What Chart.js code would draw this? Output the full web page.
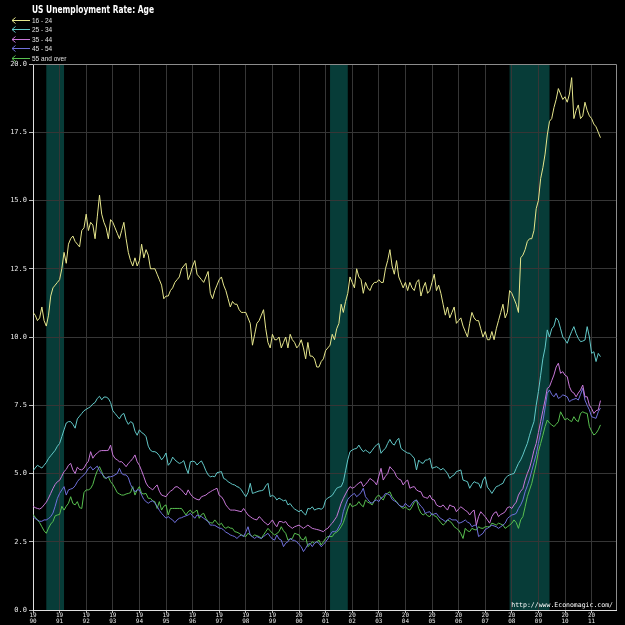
<!DOCTYPE html>
<html>
<head>
<meta charset="utf-8">
<script src="https://cdn.jsdelivr.net/npm/chart.js@4.4.1/dist/chart.umd.min.js"></script>
<style>
html,body{margin:0;padding:0;background:#000;}
#wrap{width:625px;height:625px;position:relative;}
canvas{display:block;}
</style>
</head>
<body>
<div id="wrap"><canvas id="c" width="625" height="625"></canvas></div>
<script>
// ---------- DATA ----------
const TITLE = 'US Unemployment Rate: Age';
const SERIES_LABELS = ['16 - 24', '25 - 34', '35 - 44', '45 - 54', '55 and over'];
const FIRST_YEAR = 1990;
const X_TICK_YEARS = [1990,1991,1992,1993,1994,1995,1996,1997,1998,1999,2000,2001,2002,2003,2004,2005,2006,2007,2008,2009,2010,2011];
const Y_TICKS = [0, 2.5, 5, 7.5, 10, 12.5, 15, 17.5, 20];
const RECESSIONS = [['1990-07', '1991-03'], ['2001-03', '2001-11'], ['2007-12', '2009-06']];
const WATERMARK = 'http://www.Economagic.com/';

const age16_24 = [
10.9,10.8,10.6,10.7,11.1,10.6,10.4,10.8,11.5,11.8,11.9,12.0,
12.1,12.5,13.1,12.7,13.4,13.6,13.7,13.5,13.4,13.3,13.9,14.0,
14.5,13.9,14.2,14.1,13.6,14.4,15.2,14.5,14.2,14.0,13.6,14.3,
14.2,14.0,13.8,13.6,13.9,14.2,13.6,13.1,12.8,12.6,12.9,12.6,
12.8,13.4,12.9,13.2,13.0,12.5,12.5,12.5,12.3,12.1,11.9,11.4,
11.5,11.5,11.7,11.8,12.0,12.1,12.2,12.5,12.6,12.7,12.1,12.3,
12.6,12.8,12.3,12.2,12.1,12.0,12.2,12.4,11.6,11.4,11.7,11.9,
12.1,12.2,11.9,11.7,11.4,11.1,11.3,11.2,11.2,11.0,10.9,10.9,
10.9,10.7,10.5,9.7,10.1,10.5,10.6,10.8,11.0,10.3,9.8,9.6,
10.1,9.9,9.9,10.0,9.6,9.8,10.0,9.6,10.1,9.9,9.8,9.6,
9.7,9.9,9.6,9.2,9.8,9.3,9.3,9.2,8.9,8.9,9.1,9.2,
9.5,9.6,9.7,10.1,9.9,10.3,10.5,11.2,10.9,11.3,11.6,12.2,
12.0,11.8,12.5,12.2,12.1,11.6,12.0,11.8,11.7,11.9,12.0,12.0,
12.1,12.0,12.0,12.5,12.8,13.2,12.6,12.3,12.8,12.2,12.0,11.8,
12.0,11.7,12.0,11.8,11.7,12.0,12.1,11.5,11.8,12.0,11.6,11.7,
12.0,12.3,11.7,11.9,11.6,11.2,10.8,11.1,10.7,10.9,11.1,10.5,
10.6,10.7,10.4,10.2,10.0,10.5,10.9,10.7,10.6,10.6,10.3,10.0,
10.2,9.9,9.9,10.2,9.9,10.3,10.6,10.9,11.2,10.7,10.9,11.7,
11.6,11.4,11.2,10.9,12.9,13.0,13.2,13.5,13.6,13.6,13.9,14.7,
15.0,15.8,16.2,16.7,17.4,17.9,18.0,18.4,18.7,19.1,18.9,18.7,
18.8,18.6,18.9,19.5,18.0,18.3,18.5,18.0,18.1,18.6,18.3,18.1,
18.0,17.8,17.7,17.5,17.3
];

const age25_34 = [
5.1,5.2,5.3,5.25,5.2,5.3,5.4,5.55,5.65,5.75,5.85,6.0,
6.1,6.35,6.6,6.85,6.9,6.9,6.8,6.66,7.0,7.1,7.2,7.3,
7.35,7.4,7.45,7.55,7.6,7.75,7.83,7.7,7.8,7.8,7.75,7.6,
7.3,7.2,7.1,7.0,7.15,7.2,6.95,6.8,6.9,6.85,6.55,6.4,
6.6,6.5,6.45,6.35,6.0,5.85,5.8,5.8,5.75,5.65,5.5,5.6,
5.75,5.3,5.4,5.6,5.5,5.43,5.37,5.4,5.47,5.2,5.0,5.43,
5.45,5.43,5.31,5.4,5.46,5.3,5.1,4.95,4.88,4.9,4.88,5.03,
5.05,5.07,4.82,4.78,4.7,4.65,4.6,4.58,4.52,4.49,4.4,4.27,
4.15,4.3,4.64,4.27,4.3,4.33,4.36,4.37,4.4,4.55,4.64,4.15,
4.2,4.15,4.03,4.1,4.05,4.0,4.03,3.85,3.9,3.78,3.7,3.65,
3.6,3.66,3.55,3.48,3.72,3.7,3.78,3.66,3.7,3.72,3.69,3.75,
4.03,4.1,4.15,4.2,4.33,4.46,4.5,4.52,4.7,5.1,5.5,5.8,
5.86,5.9,5.92,6.04,5.9,5.8,5.86,5.8,5.74,5.85,5.96,6.05,
6.1,5.74,5.85,5.92,6.1,6.25,6.1,6.04,6.2,6.29,5.92,5.85,
5.8,5.75,5.74,5.65,5.56,5.13,5.49,5.4,5.37,5.49,5.5,5.56,
5.19,5.22,5.25,5.2,5.13,5.19,5.1,5.0,4.82,4.9,4.95,5.07,
5.1,5.13,4.76,4.73,4.7,4.46,4.6,4.7,4.66,4.64,4.46,4.76,
4.88,4.5,4.4,4.27,4.4,4.52,4.55,4.6,4.64,4.82,4.9,4.95,
4.98,5.0,5.19,5.37,5.5,5.68,5.9,6.1,6.4,6.66,6.9,7.5,
8.0,8.6,9.2,9.6,10.26,10.0,10.3,10.4,10.7,10.6,10.3,10.0,
9.9,9.77,10.0,10.2,10.38,10.13,9.95,9.83,9.85,9.89,10.38,10.0,
9.4,9.46,9.1,9.4,9.28
];

const age35_44 = [
3.8,3.75,3.72,3.7,3.75,3.85,3.95,4.1,4.27,4.45,4.6,4.7,
4.75,4.9,5.07,5.15,5.3,5.37,5.13,5.0,5.23,5.15,5.13,5.2,
5.35,5.45,5.8,5.56,5.68,5.75,5.82,5.84,5.84,5.84,5.85,6.04,
5.68,5.55,5.5,5.43,5.43,5.35,5.25,5.37,5.45,5.55,5.68,5.43,
5.3,5.1,4.88,4.65,4.52,4.46,4.4,4.5,4.58,4.35,4.21,4.18,
4.15,4.27,4.35,4.4,4.5,4.52,4.46,4.4,4.3,4.21,4.4,4.25,
4.15,4.09,4.05,4.03,4.15,4.18,4.21,4.28,4.33,4.38,4.42,4.46,
4.2,4.15,4.03,3.85,3.75,3.66,3.66,3.66,3.64,3.62,3.6,3.72,
3.6,3.48,3.42,3.36,3.32,3.3,3.42,3.35,3.24,3.18,3.11,3.2,
3.3,3.15,3.05,3.24,3.24,3.2,3.24,3.11,3.05,2.99,3.05,3.08,
3.11,3.05,2.99,3.05,3.11,3.05,2.99,2.97,2.95,2.93,2.9,2.87,
2.95,2.99,3.1,3.18,3.3,3.42,3.66,3.91,4.09,4.25,4.4,4.52,
4.46,4.5,4.58,4.65,4.7,4.52,4.6,4.7,4.82,4.76,4.7,4.58,
4.9,5.19,4.76,4.9,5.0,5.25,5.15,5.07,4.88,4.8,4.76,4.58,
4.7,4.76,4.46,4.5,4.52,4.4,4.35,4.33,4.15,4.12,4.09,4.21,
4.05,4.03,3.85,3.8,3.78,3.85,3.75,3.66,3.85,3.8,3.78,3.6,
3.7,3.78,3.72,3.65,3.6,3.48,3.6,3.66,3.11,3.42,3.6,3.5,
3.42,3.3,3.18,3.42,3.55,3.6,3.42,3.5,3.54,3.6,3.75,3.78,
3.72,3.85,3.95,4.21,4.35,4.45,4.76,5.0,5.2,5.5,5.85,6.1,
6.5,6.9,7.3,7.69,8.12,8.18,8.4,8.61,8.9,9.04,8.67,8.73,
8.6,8.55,8.18,8.0,7.95,7.81,7.95,8.06,8.24,7.81,7.81,7.5,
7.38,7.2,7.3,7.33,7.67
];

const age45_54 = [
3.42,3.35,3.3,3.25,3.25,3.3,3.3,3.35,3.42,3.55,3.8,4.09,
4.27,4.4,4.52,4.21,4.4,4.43,4.46,4.55,4.7,4.8,4.88,4.95,
5.05,5.19,5.25,5.13,5.2,5.27,5.1,5.0,4.9,4.82,4.88,4.88,
4.9,4.95,5.0,5.19,5.0,4.95,4.95,4.85,4.6,4.45,4.33,4.4,
4.4,4.21,4.05,3.97,3.91,3.97,4.0,3.91,3.8,3.65,3.54,3.45,
3.36,3.42,3.35,3.3,3.2,3.3,3.36,3.38,3.42,3.45,3.48,3.54,
3.45,3.36,3.48,3.45,3.42,3.36,3.3,3.24,3.11,3.11,3.1,3.05,
3.0,2.99,2.93,2.85,2.81,2.75,2.72,2.69,2.62,2.7,2.75,2.69,
2.85,3.05,2.75,2.68,2.62,2.69,2.65,2.62,2.69,2.75,2.81,2.69,
2.6,2.56,2.75,2.6,2.56,2.32,2.45,2.5,2.62,2.56,2.55,2.5,
2.4,2.32,2.14,2.26,2.4,2.44,2.32,2.45,2.5,2.44,2.32,2.4,
2.5,2.6,2.75,2.87,2.87,2.9,3.05,3.2,3.6,3.85,4.05,4.15,
4.22,4.27,4.15,4.22,4.3,4.46,4.15,4.05,3.95,3.91,4.0,4.03,
3.97,4.1,4.15,4.27,4.25,4.21,4.05,4.0,3.95,3.85,3.8,3.78,
3.91,3.82,3.78,3.91,4.0,4.03,3.91,3.8,3.72,3.54,3.58,3.6,
3.48,3.52,3.54,3.42,3.35,3.3,3.24,3.3,3.36,3.3,3.3,3.3,
3.18,3.2,3.24,3.3,3.22,3.18,3.05,3.1,3.11,2.69,2.75,2.81,
2.95,2.99,3.05,3.11,3.08,3.05,2.99,3.05,3.11,3.18,3.35,3.42,
3.48,3.5,3.54,3.72,3.85,4.03,4.33,4.55,4.8,5.1,5.4,5.7,
6.1,6.5,6.9,7.4,7.94,8.06,7.9,7.81,7.94,7.75,7.8,7.88,
7.85,7.81,7.63,7.69,7.72,7.75,7.69,7.9,8.12,7.69,7.5,7.33,
7.08,7.05,7.02,7.26,7.4
];

const age55_over = [
3.5,3.4,3.3,3.2,3.05,2.9,2.81,3.0,3.15,3.24,3.45,3.48,
3.5,3.8,3.66,3.8,3.91,4.15,3.9,3.85,3.97,3.75,3.72,4.3,
4.4,4.4,4.45,4.6,4.88,5.1,5.25,5.07,4.85,4.82,4.88,4.7,
4.6,4.46,4.3,4.25,4.21,4.21,4.25,4.27,4.3,4.52,4.21,4.4,
4.52,4.27,4.25,4.27,4.09,4.09,4.0,3.97,3.72,3.97,3.66,3.8,
3.85,3.48,3.72,3.72,3.72,3.72,3.72,3.72,3.6,3.48,3.6,3.66,
3.54,3.6,3.66,3.36,3.5,3.54,3.36,3.24,3.2,3.18,3.3,3.2,
3.11,3.18,3.05,2.99,3.05,3.0,2.99,2.87,2.85,2.81,2.75,2.72,
2.69,2.81,2.75,2.69,2.75,2.72,2.69,2.62,2.75,2.87,2.99,2.9,
2.81,2.75,2.8,2.87,3.05,2.9,2.81,2.56,2.6,2.62,2.81,2.78,
2.75,2.6,2.56,2.69,2.32,2.4,2.5,2.44,2.5,2.56,2.38,2.5,
2.62,2.69,2.69,2.69,2.81,2.85,2.93,3.05,3.2,3.45,3.7,3.91,
3.78,3.82,3.85,3.97,3.85,3.78,4.03,3.95,3.91,3.85,4.0,4.15,
4.21,4.1,4.03,4.21,4.28,4.33,4.15,4.05,3.97,3.85,3.78,3.72,
3.78,3.7,3.66,3.78,3.95,4.03,3.72,3.55,3.48,3.54,3.45,3.42,
3.54,3.45,3.42,3.3,3.2,3.11,3.18,3.3,3.25,3.18,3.05,2.99,
2.93,2.8,2.62,2.99,2.9,2.87,2.99,2.95,2.93,3.05,3.0,2.99,
3.05,3.05,3.05,3.18,3.15,3.11,3.18,3.15,3.11,2.99,3.05,3.11,
3.18,3.3,3.2,2.99,3.3,3.42,3.78,4.15,4.4,4.64,5.0,5.35,
5.8,6.1,6.4,6.72,6.96,6.85,6.78,6.72,6.8,6.9,7.26,7.1,
6.96,7.02,6.95,6.9,7.08,6.95,6.9,7.2,7.26,7.22,7.2,6.72,
6.55,6.41,6.47,6.6,6.78
];

// month labels for each observation (Jan 1990 onward)
const months = [];
for (let i = 0; i < age16_24.length; i++) {
  const y = FIRST_YEAR + Math.floor(i / 12), m = (i % 12) + 1;
  months.push(y + '-' + (m < 10 ? '0' + m : m));
}

// ---------- STYLE ----------
const SERIES_COLORS = ['#e6e68c', '#62c8c8', '#c878d8', '#7070dc', '#58c050'];
const BAND_COLOR = '#073c38';
const GRID_COLOR = '#363636';
const AXIS_COLOR = '#e0e0e0';
const TEXT_COLOR = '#e8e8e8';

const toYear = s => { const p = s.split('-').map(Number); return p[0] + (p[1] - 1) / 12; };
const xs = months.map(toYear);
const allSeries = [age16_24, age25_34, age35_44, age45_54, age55_over];

const datasets = allSeries.map((vals, i) => ({
  label: SERIES_LABELS[i],
  data: vals.map((v, j) => ({ x: xs[j], y: v })),
  borderColor: SERIES_COLORS[i],
  backgroundColor: SERIES_COLORS[i],
  borderWidth: 1,
  pointRadius: 0,
  pointHoverRadius: 0,
  tension: 0,
  fill: false
}));

const decorPlugin = {
  id: 'decor',
  beforeDraw(chart) {
    const { ctx, chartArea: a, scales: { x } } = chart;
    ctx.save();
    ctx.fillStyle = '#000';
    ctx.fillRect(0, 0, chart.width, chart.height);
    ctx.fillStyle = BAND_COLOR;
    RECESSIONS.forEach(([s, e]) => {
      const x0 = x.getPixelForValue(toYear(s));
      const x1 = x.getPixelForValue(toYear(e));
      ctx.fillRect(x0, a.top, x1 - x0, a.bottom - a.top);
    });
    ctx.restore();
  },
  beforeDatasetsDraw(chart) {
    const { ctx, chartArea: a } = chart;
    ctx.save();
    ctx.strokeStyle = '#8c8c8c';
    ctx.lineWidth = 1;
    ctx.beginPath();
    ctx.moveTo(a.left, a.top + 0.5);
    ctx.lineTo(a.right + 0.5, a.top + 0.5);
    ctx.lineTo(a.right + 0.5, a.bottom);
    ctx.stroke();
    ctx.restore();
  },
  afterDraw(chart) {
    const { ctx, chartArea: a } = chart;
    ctx.save();
    // title
    ctx.fillStyle = '#ffffff';
    ctx.textBaseline = 'alphabetic';
    ctx.textAlign = 'left';
    ctx.font = 'bold 10px "Liberation Sans Narrow", "DejaVu Sans Condensed", "Liberation Sans", sans-serif';
    const tw = ctx.measureText(TITLE).width;
    const target = 122;
    ctx.save();
    ctx.translate(32, 13);
    if (tw > target) ctx.scale(target / tw, 1);
    ctx.fillText(TITLE, 0, 0);
    ctx.restore();
    // legend
    ctx.font = '6.5px "Liberation Sans", "DejaVu Sans", sans-serif';
    ctx.textBaseline = 'middle';
    chart.data.datasets.forEach((ds, i) => {
      const y = Math.round(20 + i * 9.4) + 0.5;
      ctx.strokeStyle = ds.borderColor;
      ctx.lineWidth = 1;
      ctx.beginPath();
      ctx.moveTo(30, y); ctx.lineTo(12, y);
      ctx.moveTo(15.5, y - 3); ctx.lineTo(12, y); ctx.lineTo(15.5, y + 3);
      ctx.stroke();
      ctx.fillStyle = '#e0e0e0';
      ctx.fillText(ds.label, 32, y + 0.5);
    });
    // watermark
    ctx.font = '6.5px "DejaVu Sans Mono", monospace';
    ctx.textAlign = 'right';
    ctx.textBaseline = 'alphabetic';
    ctx.fillStyle = '#ffffff';
    ctx.fillText(WATERMARK, a.right - 3, a.bottom - 3);
    ctx.restore();
  }
};

new Chart(document.getElementById('c'), {
  type: 'line',
  data: { datasets },
  plugins: [decorPlugin],
  options: {
    responsive: false,
    animation: false,
    events: [],
    layout: { padding: { top: 64, right: 9, left: 0, bottom: 0 } },
    plugins: { legend: { display: false }, title: { display: false }, tooltip: { enabled: false } },
    scales: {
      x: {
        type: 'linear',
        min: FIRST_YEAR,
        max: FIRST_YEAR + 263 / 12,
        afterBuildTicks: s => { s.ticks = X_TICK_YEARS.map(v => ({ value: v })); },
        afterFit: s => { s.height = 15; },
        grid: { color: GRID_COLOR, lineWidth: 1, tickLength: 3, tickColor: '#bbbbbb', drawTicks: true },
        border: { color: AXIS_COLOR, width: 1 },
        ticks: {
          color: TEXT_COLOR,
          font: { family: '"DejaVu Sans Mono", monospace', size: 6, lineHeight: 0.95 },
          padding: 0,
          maxRotation: 0,
          minRotation: 0,
          autoSkip: false,
          callback: v => { const s = String(v); return [s.slice(0, 2), s.slice(2)]; }
        }
      },
      y: {
        min: 0,
        max: 20,
        afterBuildTicks: s => { s.ticks = Y_TICKS.map(v => ({ value: v })); },
        afterFit: s => { s.width = 33; },
        grid: { color: c => (c.tick && c.tick.value === 20 ? '#8c8c8c' : GRID_COLOR), lineWidth: 1, tickLength: 4, tickColor: '#bbbbbb' },
        border: { color: AXIS_COLOR, width: 1 },
        ticks: {
          color: TEXT_COLOR,
          font: { family: '"DejaVu Sans Mono", monospace', size: 7 },
          padding: 2,
          callback: v => Number(v).toFixed(1)
        }
      }
    }
  }
});
</script>
</body>
</html>
